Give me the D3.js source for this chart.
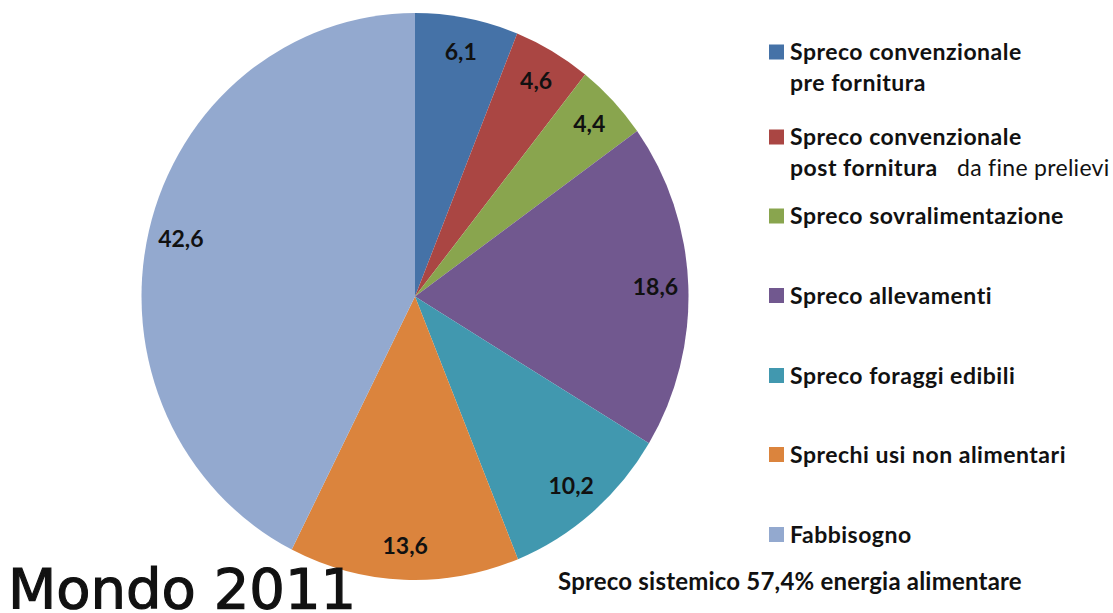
<!DOCTYPE html>
<html>
<head>
<meta charset="utf-8">
<script src="https://cdn.jsdelivr.net/npm/d3@7"></script>
<style>
  body { margin: 0; background: #fff; }
  svg { display: block; }
  .slice-label { font-family: Lato, "Open Sans", sans-serif; font-weight: bold; font-size: 23px; fill: #111; }
  .legend-text { font-family: Lato, "Open Sans", sans-serif; font-weight: bold; font-size: 23px; letter-spacing: 0.5px; fill: #111; }
  .title { font-family: "DejaVu Sans", sans-serif; font-size: 56px; fill: #111; stroke: #111; stroke-width: 1.2px; }
  .note { font-family: Lato, "Open Sans", sans-serif; font-weight: bold; font-size: 24px; letter-spacing: 0.2px; fill: #111; }
</style>
</head>
<body>
<div id="chart"></div>
<script>
// categories (legend lines) and values, clockwise from 12 o'clock
const categories = [
  ["Spreco convenzionale", "pre fornitura"],
  ["Spreco convenzionale", "post fornitura"],
  ["Spreco sovralimentazione"],
  ["Spreco allevamenti"],
  ["Spreco foraggi edibili"],
  ["Sprechi usi non alimentari"],
  ["Fabbisogno"]
];
const values = [6.1, 4.6, 4.4, 18.6, 10.2, 13.6, 42.6];
const valueLabels = ["6,1", "4,6", "4,4", "18,6", "10,2", "13,6", "42,6"];
const colors = ["#4572A7", "#AA4643", "#89A54E", "#71588F", "#4198AF", "#DB843D", "#93A9CF"];

const W = 1113, H = 613;
const cx = 415, cy = 296.5;
const ry = 283.5, rx = 273.5;   // the original pie is slightly squeezed sideways
const sx = rx / ry;

const svg = d3.select("#chart").append("svg")
    .attr("width", W)
    .attr("height", H);

const pie = d3.pie().sort(null).value(d => d);
const arcs = pie(values);

const arc = d3.arc().innerRadius(0).outerRadius(ry);
const labelArc = d3.arc().innerRadius(ry * 0.88).outerRadius(ry * 0.88);

const pieG = svg.append("g")
    .attr("transform", `translate(${cx}, ${cy}) scale(${sx}, 1)`);

pieG.selectAll(".slice")
    .data(arcs)
    .enter()
    .append("path")
    .attr("class", "slice")
    .attr("d", arc)
    .attr("fill", (d, i) => colors[i]);

svg.selectAll(".slice-label")
    .data(arcs)
    .enter()
    .append("text")
    .attr("class", "slice-label")
    .attr("x", d => cx + labelArc.centroid(d)[0] * sx)
    .attr("y", d => cy + labelArc.centroid(d)[1])
    .attr("text-anchor", "middle")
    .attr("dy", "0.35em")
    .text((d, i) => valueLabels[i]);

// legend
const legendY = [52, 137, 216, 295.5, 375.5, 454.5, 534.5];
const legend = svg.append("g");

const item = legend.selectAll(".legend-item")
    .data(categories)
    .enter()
    .append("g")
    .attr("class", "legend-item")
    .attr("transform", (d, i) => `translate(769, ${legendY[i]})`);

item.append("rect")
    .attr("x", 0)
    .attr("y", -7.5)
    .attr("width", 15)
    .attr("height", 15)
    .attr("fill", (d, i) => colors[i]);

item.selectAll("text")
    .data(d => d)
    .enter()
    .append("text")
    .attr("class", "legend-text")
    .attr("x", 21)
    .attr("y", (d, j) => 8 + j * 31)
    .text(d => d);

svg.append("text")
    .attr("class", "legend-text")
    .attr("x", 957)
    .attr("y", legendY[1] + 39)
    .style("font-weight", "normal")
    .style("letter-spacing", "0.3px")
    .text("da fine prelievi");

svg.append("text")
    .attr("class", "title")
    .attr("x", 8)
    .attr("y", 608)
    .text("Mondo 2011");

svg.append("text")
    .attr("class", "note")
    .attr("x", 558)
    .attr("y", 590)
    .text("Spreco sistemico 57,4% energia alimentare");
</script>
</body>
</html>
